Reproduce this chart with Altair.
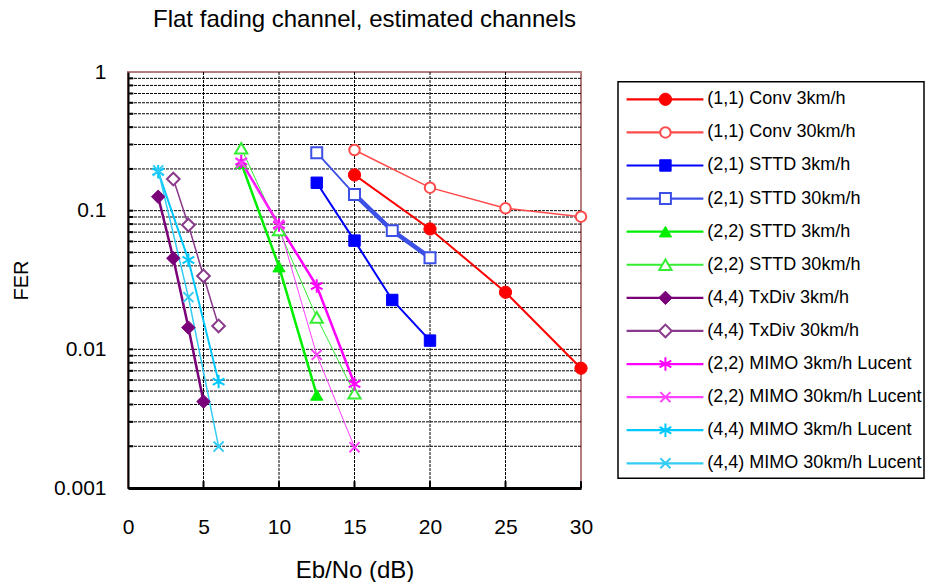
import altair as alt
import pandas as pd

FONT = "Liberation Sans"

chart_title = "Flat fading channel, estimated channels"
x_title = "Eb/No (dB)"
y_title = "FER"
x_ticks = [0, 5, 10, 15, 20, 25, 30]
y_ticks = [1, 0.1, 0.01, 0.001]
x_grid = [5, 10, 15, 20, 25]
y_grid = [m * d for d in [0.1, 0.01, 0.001] for m in [1, 2, 3, 4, 5, 6, 7, 8, 9]]

labels = [
    "(1,1) Conv 3km/h", "(1,1) Conv 30km/h",
    "(2,1) STTD 3km/h", "(2,1) STTD 30km/h",
    "(2,2) STTD 3km/h", "(2,2) STTD 30km/h",
    "(4,4) TxDiv 3km/h", "(4,4) TxDiv 30km/h",
    "(2,2) MIMO 3km/h Lucent", "(2,2) MIMO 30km/h Lucent",
    "(4,4) MIMO 3km/h Lucent", "(4,4) MIMO 30km/h Lucent",
]

x_conv = [15, 20, 25, 30]
conv_3 = [0.181, 0.0738, 0.0258, 0.00731]
conv_30 = [0.274, 0.1465, 0.104, 0.0905]
x_sttd21 = [12.5, 15, 17.5, 20]
sttd21_3 = [0.159, 0.0608, 0.0227, 0.01156]
sttd21_30 = [0.262, 0.131, 0.0718, 0.0458]
x_sttd22_3 = [7.5, 10, 12.5]
sttd22_3 = [0.22, 0.0395, 0.00469]
x_sttd22_30 = [7.5, 10, 12.5, 15]
sttd22_30 = [0.282, 0.0726, 0.017, 0.00482]
x_txdiv_3 = [2, 3, 4, 5]
txdiv_3 = [0.126, 0.0454, 0.01435, 0.0042]
x_txdiv_30 = [3, 4, 5, 6]
txdiv_30 = [0.169, 0.0788, 0.0338, 0.01475]
x_mimo22 = [7.5, 10, 12.5, 15]
mimo22_3 = [0.226, 0.0788, 0.0286, 0.00563]
mimo22_30 = [0.22, 0.079, 0.00912, 0.00197]
x_mimo44 = [2, 4, 6]
mimo44_3 = [0.191, 0.0441, 0.00585]
mimo44_30 = [0.195, 0.0238, 0.00199]

ASTERISK = "M0,-1L0,1M-0.87,-0.5L0.87,0.5M-0.87,0.5L0.87,-0.5"
XMARK = "M-0.75,-0.75L0.75,0.75M-0.75,0.75L0.75,-0.75"

# label, xs, ys, color, shape, filled, line width, marker size
series = [
    (labels[0], x_conv, conv_3, "#ff0000", "circle", True, 2.0, 150),
    (labels[1], x_conv, conv_30, "#ff4a4a", "circle", False, 1.5, 110),
    (labels[2], x_sttd21, sttd21_3, "#0000ff", "square", True, 2.0, 130),
    (labels[3], x_sttd21, sttd21_30, "#3c50e6", "square", False, 1.8, 120),
    (labels[4], x_sttd22_3, sttd22_3, "#00ee00", "triangle-up", True, 2.5, 150),
    (labels[5], x_sttd22_30, sttd22_30, "#33ee33", "triangle-up", False, 1.0, 150),
    (labels[6], x_txdiv_3, txdiv_3, "#7a007a", "diamond", True, 2.5, 180),
    (labels[7], x_txdiv_30, txdiv_30, "#8a3a8a", "diamond", False, 1.5, 160),
    (labels[8], x_mimo22, mimo22_3, "#ff00ff", ASTERISK, False, 2.5, 180),
    (labels[9], x_mimo22, mimo22_30, "#ff40ff", XMARK, False, 1.0, 180),
    (labels[10], x_mimo44, mimo44_3, "#00c8ff", ASTERISK, False, 2.0, 180),
    (labels[11], x_mimo44, mimo44_30, "#33ccf5", XMARK, False, 1.5, 180),
]

x_scale = alt.Scale(domain=[0, 30], nice=False, zero=False)
y_scale = alt.Scale(type="log", domain=[0.001, 1], nice=False)
x_axis = alt.Axis(values=x_ticks, grid=False, ticks=False, domainColor="black", domainWidth=3,
                  labelFontSize=21, labelPadding=28, labelColor="black", labelFont=FONT,
                  labelFlush=False, labelOverlap=False,
                  title=x_title, titleFontSize=24, titleFontWeight="normal", titleFont=FONT,
                  titleColor="black", titlePadding=21)
y_axis = alt.Axis(values=y_ticks, format="~g", grid=False, ticks=False, domainColor="black",
                  domainWidth=2, labelFontSize=21, labelPadding=22, labelColor="black",
                  labelFont=FONT, labelFlush=False, labelOverlap=False,
                  title=y_title, titleFontSize=20, titleFontWeight="normal",
                  titleFont=FONT, titleColor="black", titlePadding=22)


def X(field="x"):
    return alt.X(f"{field}:Q", scale=x_scale, axis=x_axis)


def Y(field="y"):
    return alt.Y(f"{field}:Q", scale=y_scale, axis=y_axis)


layers = []
# grid
hgrid = pd.DataFrame({"y": y_grid})
vgrid = pd.DataFrame({"x": x_grid})
layers.append(alt.Chart(hgrid).mark_rule(color="black", strokeWidth=1, strokeDash=[3, 1]).encode(y=Y()))
layers.append(alt.Chart(vgrid).mark_rule(color="black", strokeWidth=1, strokeDash=[3, 1]).encode(x=X()))
# inward ticks
layers.append(alt.Chart(hgrid).mark_rule(color="black", strokeWidth=2).encode(
    y=Y(), x=alt.X(datum=0, scale=x_scale, axis=x_axis), x2=alt.X2(datum=0.35)))
layers.append(alt.Chart(pd.DataFrame({"x": x_ticks[1:]})).mark_rule(color="black", strokeWidth=2).encode(
    x=X(), y=alt.Y(datum=0.001, scale=y_scale, axis=y_axis), y2=alt.Y2(datum=0.00112)))

for (lab, xs, ys, col, shp, filled, lw, size) in series:
    df = pd.DataFrame({"x": xs, "y": ys})
    layers.append(alt.Chart(df).mark_line(color=col, strokeWidth=lw).encode(x=X(), y=Y()))
    if lab == labels[3]:
        sub = df[df["x"] >= 15]
        layers.append(alt.Chart(sub).mark_line(color=col, strokeWidth=4.5).encode(x=X(), y=Y()))


def marker(chart, shp, filled, col, size):
    if filled:
        return chart.mark_point(shape=shp, size=size, fill=col, stroke=col, fillOpacity=1,
                                opacity=1, strokeWidth=1)
    if shp.startswith("M"):
        return chart.mark_point(shape=shp, size=size, stroke=col, filled=False,
                                opacity=1, strokeWidth=2)
    return chart.mark_point(shape=shp, size=size, fill="white", stroke=col,
                            fillOpacity=1, opacity=1, strokeWidth=2)


for (lab, xs, ys, col, shp, filled, lw, size) in series:
    df = pd.DataFrame({"x": xs, "y": ys})
    layers.append(marker(alt.Chart(df), shp, filled, col, size).encode(x=X(), y=Y()))

main = alt.layer(*layers)

# legend panel (own scales)
lx_scale = alt.Scale(domain=[0, 1], range=[490, 796], nice=False, zero=False)
ly_scale = alt.Scale(domain=[0, 11], range=[27.3, 391.3], nice=False, zero=False)
leg_layers = []
box = pd.DataFrame({"lx": [0], "lx2": [1], "ly": [-0.53], "ly2": [11.45]})
leg_layers.append(alt.Chart(box).mark_rect(fill="white", stroke="black", strokeWidth=1.5).encode(
    x=alt.X("lx:Q", scale=lx_scale, axis=None), x2="lx2:Q",
    y=alt.Y("ly:Q", scale=ly_scale, axis=None), y2="ly2:Q"))
for i, (lab, xs, ys, col, shp, filled, lw, size) in enumerate(series):
    row = pd.DataFrame({"lx": [0.028], "lx2": [0.279], "lm": [0.155], "lt": [0.292],
                        "ly": [i], "label": [lab]})
    leg_layers.append(alt.Chart(row).mark_rule(color=col, strokeWidth=2.2).encode(
        x=alt.X("lx:Q", scale=lx_scale, axis=None), x2="lx2:Q",
        y=alt.Y("ly:Q", scale=ly_scale, axis=None)))
    leg_layers.append(marker(alt.Chart(row), shp, filled, col, size).encode(
        x=alt.X("lm:Q", scale=lx_scale, axis=None),
        y=alt.Y("ly:Q", scale=ly_scale, axis=None)))
    leg_layers.append(alt.Chart(row).mark_text(align="left", baseline="middle", fontSize=18,
                                               font=FONT, color="black").encode(
        x=alt.X("lt:Q", scale=lx_scale, axis=None),
        y=alt.Y("ly:Q", scale=ly_scale, axis=None), text="label:N"))
legend = alt.layer(*leg_layers)

chart = alt.layer(main, legend).resolve_scale(x="independent", y="independent").properties(
    width=453, height=416,
    autosize=alt.AutoSizeParams(type="none"),
    padding={"left": 128, "top": 72, "right": 346, "bottom": 94},
    title=alt.TitleParams(chart_title, fontSize=24, fontWeight="normal", font=FONT, color="black",
                          anchor="middle", offset=29, dx=10),
    background="white",
).configure_view(stroke="#b47c7c", strokeWidth=2)

chart.save("out.html", embed_options={"renderer": "svg", "actions": False})
